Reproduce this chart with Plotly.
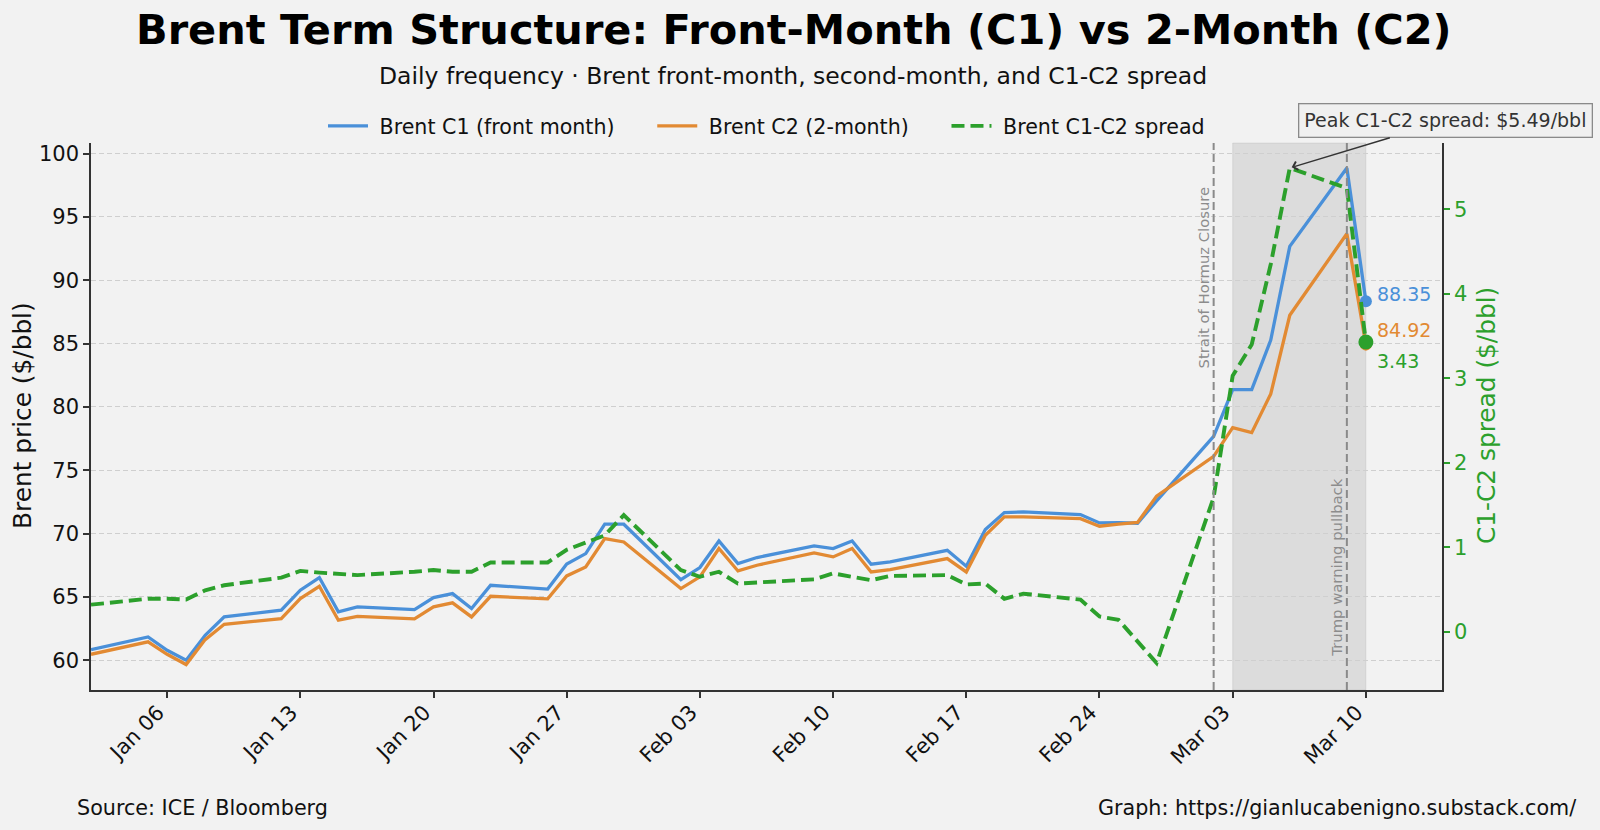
import plotly.graph_objects as go

# ---------------- data ----------------
dates = [
    "2026-01-02", "2026-01-05", "2026-01-06", "2026-01-07", "2026-01-08", "2026-01-09",
    "2026-01-12", "2026-01-13", "2026-01-14", "2026-01-15", "2026-01-16",
    "2026-01-19", "2026-01-20", "2026-01-21", "2026-01-22", "2026-01-23",
    "2026-01-26", "2026-01-27", "2026-01-28", "2026-01-29", "2026-01-30",
    "2026-02-02", "2026-02-03", "2026-02-04", "2026-02-05", "2026-02-06",
    "2026-02-09", "2026-02-10", "2026-02-11", "2026-02-12", "2026-02-13",
    "2026-02-16", "2026-02-17", "2026-02-18", "2026-02-19", "2026-02-20",
    "2026-02-23", "2026-02-24", "2026-02-25", "2026-02-26", "2026-02-27",
    "2026-03-02", "2026-03-03", "2026-03-04", "2026-03-05", "2026-03-06",
    "2026-03-09", "2026-03-10",
]

brent_c1 = [
    60.84, 61.84, 60.79, 60.00, 61.97, 63.42,
    63.95, 65.53, 66.53, 63.82, 64.21,
    64.00, 64.95, 65.26, 64.08, 65.92,
    65.62, 67.60, 68.42, 70.74, 70.74,
    66.37, 67.32, 69.42, 67.63, 68.11,
    69.03, 68.82, 69.42, 67.58, 67.76,
    68.68, 67.42, 70.32, 71.66, 71.71,
    71.50, 70.84, 70.87, 70.82, 72.58,
    77.68, 81.37, 81.37, 85.28, 92.68,
    98.87, 88.35,
]

brent_c2 = [
    60.47, 61.45, 60.47, 59.66, 61.63, 62.84,
    63.29, 64.87, 65.84, 63.16, 63.47,
    63.26, 64.21, 64.53, 63.42, 65.05,
    64.85, 66.66, 67.37, 69.61, 69.34,
    65.66, 66.58, 68.82, 67.05, 67.50,
    68.47, 68.16, 68.82, 66.97, 67.16,
    68.03, 66.97, 69.87, 71.32, 71.32,
    71.18, 70.58, 70.74, 70.88, 72.95,
    76.10, 78.37, 77.97, 81.03, 87.24,
    93.68, 84.92,
]

c1_c2_spread = [
    0.32, 0.39, 0.39, 0.38, 0.49, 0.55,
    0.64, 0.72, 0.70, 0.68, 0.67,
    0.71, 0.73, 0.71, 0.71, 0.82,
    0.82, 0.97, 1.06, 1.14, 1.38,
    0.73, 0.65, 0.71, 0.57, 0.58,
    0.62, 0.69, 0.65, 0.61, 0.66,
    0.67, 0.56, 0.57, 0.39, 0.45,
    0.38, 0.18, 0.14, -0.11, -0.37,
    1.59, 3.03, 3.40, 4.35, 5.49,
    5.25, 3.43,
]

series_names = ["Brent C1 (front month)", "Brent C2 (2-month)", "Brent C1-C2 spread"]
event_dates = ["2026-03-02", "2026-03-09"]
event_labels = ["Strait of Hormuz Closure", "Trump warning pullback"]
shade_start, shade_end = "2026-03-03", "2026-03-10"

# ---------------- styling ----------------
BLUE = "#4A90D9"
ORANGE = "#E28A33"
GREEN = "#2CA02C"
BG = "#F2F2F2"
FONT = "DejaVu Sans"
NB = "\u00a0"

W, H = 1600, 830
L, R, T, B = 91, 158, 143, 140
PW = W - L - R
PH = H - T - B


def px(X):
    return (X - L) / PW


def py(Y):
    return (H - B - Y) / PH


fig = go.Figure()

fig.add_trace(go.Scatter(
    x=dates, y=brent_c1, mode="lines", name=NB + series_names[0] + NB * 5,
    line=dict(color=BLUE, width=3.3), yaxis="y"))
fig.add_trace(go.Scatter(
    x=dates, y=brent_c2, mode="lines", name=NB + series_names[1] + NB * 5,
    line=dict(color=ORANGE, width=3.3), yaxis="y"))
fig.add_trace(go.Scatter(
    x=dates, y=c1_c2_spread, mode="lines", name=NB + series_names[2],
    line=dict(color=GREEN, width=3.9, dash="13px,6px"), yaxis="y2"))

# end-point markers
fig.add_trace(go.Scatter(
    x=[dates[-1]], y=[brent_c1[-1]], mode="markers", showlegend=False,
    marker=dict(color=BLUE, size=12), yaxis="y"))
fig.add_trace(go.Scatter(
    x=[dates[-1]], y=[brent_c2[-1]], mode="markers", showlegend=False,
    marker=dict(color=ORANGE, size=12), yaxis="y"))
fig.add_trace(go.Scatter(
    x=[dates[-1]], y=[c1_c2_spread[-1]], mode="markers", showlegend=False,
    marker=dict(color=GREEN, size=15), yaxis="y2"))

shapes = [
    dict(type="rect", xref="x", yref="paper", x0=shade_start, x1=shade_end,
         y0=0, y1=1, fillcolor="rgba(128,128,128,0.19)",
         line=dict(color="rgba(128,128,128,0.15)", width=1), layer="below"),
]
for d in event_dates:
    shapes.append(dict(type="line", xref="x", yref="paper", x0=d, x1=d, y0=0, y1=1,
                       line=dict(color="#8A8A8A", width=2, dash="8px,4px")))

annotations = [
    # title + subtitle
    dict(text="<b>Brent Term Structure: Front-Month (C1) vs 2-Month (C2)</b>",
         xref="paper", yref="paper", x=px(793), y=py(29), showarrow=False,
         xanchor="center", yanchor="middle", font=dict(size=41.5, color="#000", family=FONT)),
    dict(text="Daily frequency · Brent front-month, second-month, and C1-C2 spread",
         xref="paper", yref="paper", x=px(793), y=py(76), showarrow=False,
         xanchor="center", yanchor="middle", font=dict(size=23.5, color="#111", family=FONT)),
    # axis titles
    dict(text="Brent price ($/bbl)", xref="paper", yref="paper", x=px(22), y=py(416),
         textangle=-90, showarrow=False, xanchor="center", yanchor="middle",
         font=dict(size=24.8, color="#111", family=FONT)),
    dict(text="C1-C2 spread ($/bbl)", xref="paper", yref="paper", x=px(1486), y=py(416),
         textangle=-90, showarrow=False, xanchor="center", yanchor="middle",
         font=dict(size=24.8, color=GREEN, family=FONT)),
    # footer
    dict(text="Source: ICE / Bloomberg", xref="paper", yref="paper", x=px(75), y=py(808),
         showarrow=False, xanchor="left", yanchor="middle",
         font=dict(size=20.7, color="#111", family=FONT)),
    dict(text="Graph: https://gianlucabenigno.substack.com/", xref="paper", yref="paper",
         x=px(1578), y=py(808), showarrow=False, xanchor="right", yanchor="middle",
         font=dict(size=20.7, color="#111", family=FONT)),
    # event labels
    dict(text=event_labels[0], xref="x", yref="y", x=event_dates[0], y=90.2,
         textangle=-90, showarrow=False, xanchor="center", yanchor="middle", xshift=-10,
         font=dict(size=14.8, color="#8C8C8C", family=FONT)),
    dict(text=event_labels[1], xref="x", yref="y", x=event_dates[1], y=67.3,
         textangle=-90, showarrow=False, xanchor="center", yanchor="middle", xshift=-10,
         font=dict(size=14.8, color="#8C8C8C", family=FONT)),
    # end labels
    dict(text=f"{brent_c1[-1]:.2f}", xref="x", yref="y", x=dates[-1], y=brent_c1[-1],
         showarrow=False, xanchor="left", yanchor="middle", xshift=9, yshift=7,
         font=dict(size=19, color=BLUE, family=FONT)),
    dict(text=f"{brent_c2[-1]:.2f}", xref="x", yref="y", x=dates[-1], y=brent_c2[-1],
         showarrow=False, xanchor="left", yanchor="middle", xshift=9, yshift=15,
         font=dict(size=19, color=ORANGE, family=FONT)),
    dict(text=f"{c1_c2_spread[-1]:.2f}", xref="x", yref="y2", x=dates[-1], y=c1_c2_spread[-1],
         showarrow=False, xanchor="left", yanchor="middle", xshift=9, yshift=-19,
         font=dict(size=19, color=GREEN, family=FONT)),
]

peak_i = max(range(len(c1_c2_spread)), key=lambda i: c1_c2_spread[i])
annotations.append(dict(
    text=f"Peak C1-C2 spread: ${c1_c2_spread[peak_i]:.2f}/bbl",
    xref="x", yref="y2", x=dates[peak_i], y=c1_c2_spread[peak_i],
    showarrow=True, ax=156, ay=-47, arrowhead=4, arrowsize=1.2, arrowwidth=1.4,
    arrowcolor="#333", standoff=2,
    bgcolor="#F0F0F0", bordercolor="#8A8A8A", borderwidth=1.3, borderpad=5,
    font=dict(size=19, color="#333", family=FONT)))

fig.update_layout(
    width=W, height=H, autosize=False,
    margin=dict(l=L, r=R, t=T, b=B),
    paper_bgcolor=BG, plot_bgcolor=BG,
    font=dict(family=FONT, color="#111"),
    showlegend=True,
    legend=dict(orientation="h", x=0.5, xanchor="center", y=py(126), yanchor="middle",
                bgcolor="rgba(0,0,0,0)", font=dict(size=20.6, family=FONT),
                itemwidth=40, tracegroupgap=0),
    shapes=shapes,
    annotations=annotations,
    xaxis=dict(
        type="date", range=["2026-01-02", "2026-03-14"],
        tick0="2026-01-06", dtick=7 * 86400000, tickformat="%b %d", tickangle=-45,
        ticks="outside", ticklen=6, tickwidth=1.5, tickcolor="#333",
        ticklabelshift=-9, ticklabelstandoff=-6,
        showgrid=False, zeroline=False, showline=True, linecolor="#333", linewidth=1.6,
        tickfont=dict(size=21, family=FONT, color="#111"),
    ),
    yaxis=dict(
        range=[57.65, 100.84], tick0=60, dtick=5,
        ticks="outside", ticklen=6, tickwidth=1.5, tickcolor="#333",
        showgrid=True, gridcolor="#CFCFCF", griddash="5px,3px", gridwidth=1,
        zeroline=False, showline=True, linecolor="#333", linewidth=1.6,
        tickfont=dict(size=21, family=FONT, color="#111"),
    ),
    yaxis2=dict(
        overlaying="y", side="right", range=[-0.69, 5.785], tick0=0, dtick=1,
        ticks="outside", ticklen=6, tickwidth=1.5, tickcolor=GREEN,
        showgrid=False, zeroline=False, showline=True, linecolor="#333", linewidth=1.6,
        tickfont=dict(size=21, family=FONT, color=GREEN),
    ),
)

fig.write_html(
    "out.html",
    config={"displayModeBar": False},
    post_script="document.body.style.margin='0';document.body.style.background='#F2F2F2';",
)
